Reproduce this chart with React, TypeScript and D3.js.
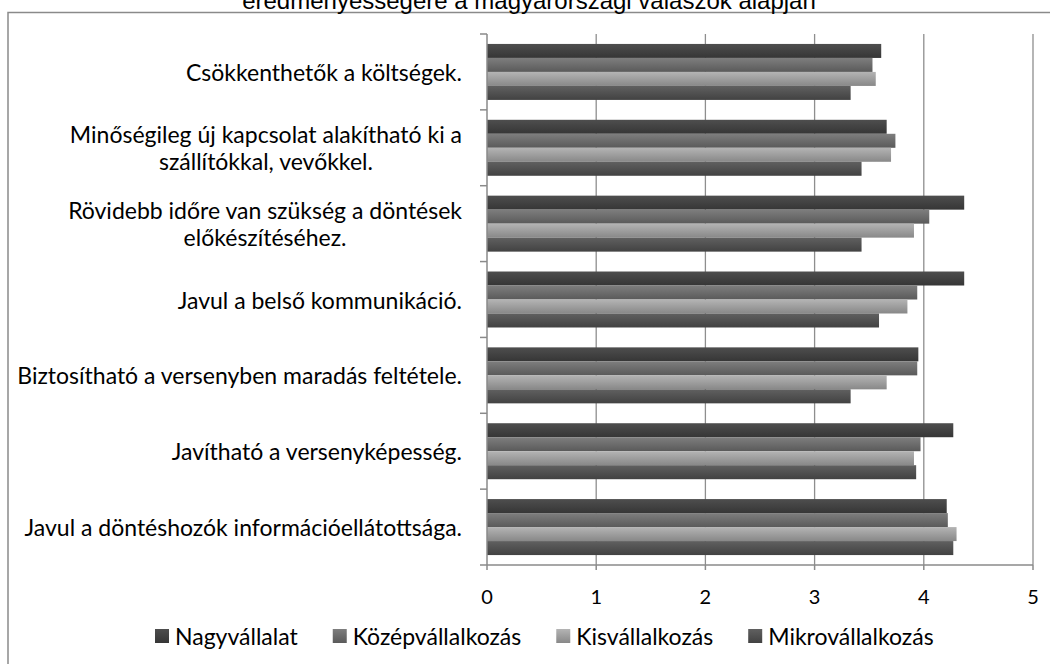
import React, { useEffect, useRef } from "react";
import * as d3 from "d3";

const categories = [
  "Csökkenthetők a költségek.",
  "Minőségileg új kapcsolat alakítható ki a|szállítókkal, vevőkkel.",
  "Rövidebb időre van szükség a döntések|előkészítéséhez.",
  "Javul a belső kommunikáció.",
  "Biztosítható a versenyben maradás feltétele.",
  "Javítható a versenyképesség.",
  "Javul a döntéshozók információellátottsága.",
];

const seriesNames = ["Nagyvállalat", "Középvállalkozás", "Kisvállalkozás", "Mikrovállalkozás"];

const nagy = [3.61, 3.66, 4.37, 4.37, 3.95, 4.27, 4.21];
const kozep = [3.53, 3.74, 4.05, 3.94, 3.94, 3.97, 4.22];
const kis = [3.56, 3.70, 3.91, 3.85, 3.66, 3.91, 4.30];
const mikro = [3.33, 3.43, 3.43, 3.59, 3.33, 3.93, 4.27];

const xTicks = [0, 1, 2, 3, 4, 5];

const titleText = "eredményességére a magyarországi válaszok alapján";

const gradients = [
  ["#4e4e4e", "#363636"],
  ["#7e7e7e", "#5a5a5a"],
  ["#b4b4b4", "#888888"],
  ["#606060", "#424242"],
];

export default function App() {
  const ref = useRef<SVGSVGElement | null>(null);

  useEffect(() => {
    const svg = d3.select(ref.current);
    svg.selectAll("*").remove();
    const W = 1050, H = 664;
    const left = 487, right = 1033, top = 34, bottom = 565;
    const labelFont = "Lato, 'Open Sans', sans-serif";

    const defs = svg.append("defs");
    gradients.forEach((g, i) => {
      const lg = defs.append("linearGradient").attr("id", "g" + i)
        .attr("x1", 0).attr("y1", 0).attr("x2", 0).attr("y2", 1);
      lg.append("stop").attr("offset", "0%").attr("stop-color", g[0]);
      lg.append("stop").attr("offset", "100%").attr("stop-color", g[1]);
    });

    svg.append("rect").attr("width", W).attr("height", H).attr("fill", "#fff");

    // frame
    svg.append("rect").attr("x", 8).attr("y", 12.5).attr("width", W + 20).attr("height", H + 20)
      .attr("fill", "none").attr("stroke", "#8a8a8a").attr("stroke-width", 1.5);

    // title
    svg.append("text").attr("x", 529).attr("y", 9).attr("text-anchor", "middle")
      .attr("font-family", "'Liberation Sans', Arial, sans-serif").attr("font-size", 24)
      .attr("fill", "#000").text(titleText);

    const x = d3.scaleLinear().domain([0, 5]).range([left, right]);
    const y0 = d3.scaleBand<number>().domain(d3.range(categories.length)).range([top, bottom]);
    const y1 = d3.scaleBand<number>().domain(d3.range(4)).range([0, y0.bandwidth()]).paddingOuter(0.71);

    // gridlines
    svg.append("g").selectAll("line").data(xTicks.slice(1)).join("line")
      .attr("x1", d => x(d)).attr("x2", d => x(d)).attr("y1", top).attr("y2", bottom)
      .attr("stroke", "#8e8e8e").attr("stroke-width", 1.3);

    const data = [nagy, kozep, kis, mikro];
    const g = svg.append("g");
    categories.forEach((_, ci) => {
      data.forEach((vals, si) => {
        g.append("rect")
          .attr("x", x(0)).attr("y", y0(ci)! + y1(si)!)
          .attr("width", x(vals[ci]) - x(0)).attr("height", y1.bandwidth())
          .attr("fill", `url(#g${si})`);
      });
    });

    // axes
    const axisColor = "#8a8a8a";
    svg.append("line").attr("x1", left).attr("x2", right).attr("y1", bottom).attr("y2", bottom)
      .attr("stroke", axisColor).attr("stroke-width", 1.5);
    svg.append("line").attr("x1", left).attr("x2", left).attr("y1", top).attr("y2", bottom)
      .attr("stroke", axisColor).attr("stroke-width", 1.5);
    svg.append("g").selectAll("line").data(xTicks).join("line")
      .attr("x1", d => x(d)).attr("x2", d => x(d)).attr("y1", bottom).attr("y2", bottom + 5)
      .attr("stroke", axisColor).attr("stroke-width", 1.5);
    const bounds = d3.range(categories.length + 1).map(i => top + i * y0.step());
    svg.append("g").selectAll("line").data(bounds).join("line")
      .attr("x1", left - 7).attr("x2", left).attr("y1", d => d).attr("y2", d => d)
      .attr("stroke", axisColor).attr("stroke-width", 1.5);

    // tick labels
    svg.append("g").selectAll("text").data(xTicks).join("text")
      .attr("x", d => x(d)).attr("y", 596).attr("text-anchor", "middle")
      .attr("dominant-baseline", "central")
      .attr("font-family", labelFont).attr("font-size", 20).attr("fill", "#000")
      .text(d => String(d));

    // category labels
    const labelRight = 462;
    const lineH = 27;
    categories.forEach((c, ci) => {
      const lines = c.split("|");
      const cy = y0(ci)! + y0.bandwidth() / 2;
      const t = svg.append("text")
        .attr("font-family", labelFont).attr("font-size", 23).attr("fill", "#000")
        .attr("text-anchor", "middle").attr("dominant-baseline", "central");
      const tspans = lines.map((l, li) =>
        t.append("tspan").attr("y", cy + (li - (lines.length - 1) / 2) * lineH).text(l)
      );
      let maxW = 0;
      tspans.forEach(ts => { maxW = Math.max(maxW, (ts.node() as SVGTSpanElement).getComputedTextLength()); });
      tspans.forEach(ts => ts.attr("x", labelRight - maxW / 2));
    });

    // legend
    const legend = svg.append("g");
    let lx = 155;
    const ly = 636;
    seriesNames.forEach((s, i) => {
      legend.append("rect").attr("x", lx).attr("y", ly - 7).attr("width", 14).attr("height", 14)
        .attr("fill", `url(#g${i})`);
      const t = legend.append("text").attr("x", lx + 20).attr("y", ly)
        .attr("dominant-baseline", "central")
        .attr("font-family", labelFont).attr("font-size", 23).attr("fill", "#000").text(s);
      const w = (t.node() as SVGTextElement).getComputedTextLength();
      lx = lx + 20 + w + 35;
    });
  }, []);

  return (
    <svg ref={ref} width={1050} height={664}
      style={{ position: "absolute", left: 0, top: 0, display: "block" }} />
  );
}
